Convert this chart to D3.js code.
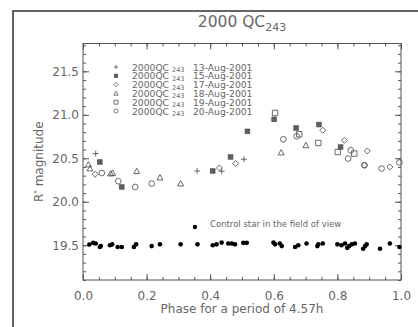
<!DOCTYPE html>
<html>
<head>
<meta charset="utf-8">
<script src="https://cdn.jsdelivr.net/npm/d3@7"></script>
<style>
body { margin: 0; background: #fff; }
text { font-family: "DejaVu Sans", sans-serif; fill: #666; }
</style>
</head>
<body>
<script>
// asteroid photometry, [phase, R magnitude] per night
var aug13 = [[0.040, 20.554], [0.359, 20.354], [0.436, 20.351], [0.506, 20.489]];
var aug15 = [[0.053, 20.457], [0.122, 20.170], [0.408, 20.354], [0.464, 20.515], [0.517, 20.810],
             [0.601, 20.948], [0.670, 20.848], [0.742, 20.887], [0.810, 20.630]];
var aug17 = [[0.038, 20.316], [0.429, 20.389], [0.480, 20.439], [0.754, 20.822], [0.822, 20.707],
             [0.894, 20.584], [0.885, 20.420], [0.965, 20.400]];
var aug18 = [[0.017, 20.428], [0.022, 20.382], [0.087, 20.324], [0.093, 20.331], [0.169, 20.351],
             [0.242, 20.278], [0.307, 20.209], [0.623, 20.566], [0.701, 20.649]];
var aug19 = [[0.604, 21.021], [0.680, 20.776], [0.740, 20.676], [0.801, 20.572], [0.853, 20.554]];
var aug20 = [[0.059, 20.331], [0.111, 20.236], [0.164, 20.170], [0.216, 20.209], [0.630, 20.718],
             [0.672, 20.753], [0.842, 20.592], [0.834, 20.497], [0.885, 20.420], [0.939, 20.382],
             [0.995, 20.451]];

// control star in the same frames
var control = [[0.020, 19.508], [0.032, 19.527], [0.040, 19.52], [0.053, 19.48], [0.056, 19.49],
               [0.085, 19.50], [0.092, 19.51], [0.109, 19.48], [0.122, 19.48], [0.160, 19.48],
               [0.167, 19.51], [0.216, 19.49], [0.242, 19.51], [0.307, 19.51], [0.360, 19.51],
               [0.408, 19.50], [0.420, 19.51], [0.436, 19.53], [0.457, 19.52], [0.468, 19.52],
               [0.478, 19.51], [0.504, 19.527], [0.515, 19.527], [0.599, 19.53], [0.604, 19.51],
               [0.619, 19.52], [0.625, 19.49], [0.667, 19.48], [0.677, 19.50], [0.703, 19.52],
               [0.737, 19.49], [0.740, 19.51], [0.754, 19.52], [0.800, 19.51], [0.813, 19.50],
               [0.824, 19.52], [0.831, 19.47], [0.837, 19.49], [0.845, 19.51], [0.855, 19.52],
               [0.881, 19.46], [0.887, 19.49], [0.892, 19.51], [0.934, 19.46], [0.965, 19.52],
               [0.995, 19.48]];
var controlNote = [0.352, 19.71];

var dates = ["13-Aug-2001", "15-Aug-2001", "17-Aug-2001", "18-Aug-2001", "19-Aug-2001", "20-Aug-2001"];
var glyphs = ["plus", "star", "diamond", "triangle", "square", "circle"];
var nights = [aug13, aug15, aug17, aug18, aug19, aug20];

var xTicks = [0, 0.2, 0.4, 0.6, 0.8, 1.0];
var yTicks = [19.5, 20.0, 20.5, 21.0, 21.5];

var width = 418, height = 327;
var plotL = 83, plotR = 401, plotT = 43.5, plotB = 280;

var x = d3.scaleLinear().domain([0, 1]).range([plotL, plotR]);
var y = d3.scaleLinear().domain([19.1, 21.82]).range([plotB, plotT]);

var svg = d3.select("body").append("svg")
    .attr("width", width)
    .attr("height", height);

// outer page border (runs off the right and bottom)
svg.append("rect")
    .attr("x", 13).attr("y", 11)
    .attr("width", 500).attr("height", 400)
    .attr("fill", "none")
    .attr("stroke", "#333")
    .attr("stroke-width", 1.5);

// title with subscript
var title = svg.append("text")
    .attr("x", 242).attr("y", 27)
    .attr("text-anchor", "middle")
    .style("font-size", "15.5px");
title.append("tspan").text("2000 QC");
title.append("tspan").attr("dy", 4).style("font-size", "11px").text("243");

// frame
svg.append("rect")
    .attr("x", plotL).attr("y", plotT)
    .attr("width", plotR - plotL).attr("height", plotB - plotT)
    .attr("fill", "none")
    .attr("stroke", "#555")
    .attr("stroke-width", 1);

function styleAxis(g) {
    g.select(".domain").remove();
    g.selectAll("line").attr("stroke", "#555");
    g.selectAll("text")
        .attr("fill", "#666")
        .style("font-family", "DejaVu Sans, sans-serif")
        .style("font-size", "12px");
}

var xMinor = d3.range(0, 1.0001, 0.05);
var yMinor = d3.range(19.1, 21.81, 0.1);

// bottom axis
svg.append("g").attr("transform", "translate(0," + plotB + ")")
    .call(d3.axisBottom(x).tickValues(xMinor).tickSize(-3).tickFormat(""))
    .call(styleAxis);
svg.append("g").attr("transform", "translate(0," + plotB + ")")
    .call(d3.axisBottom(x).tickValues(xTicks).tickSize(-6).tickPadding(11).tickFormat(d3.format(".1f")))
    .call(styleAxis);
// top axis
svg.append("g").attr("transform", "translate(0," + plotT + ")")
    .call(d3.axisTop(x).tickValues(xMinor).tickSize(-3).tickFormat(""))
    .call(styleAxis);
svg.append("g").attr("transform", "translate(0," + plotT + ")")
    .call(d3.axisTop(x).tickValues(xTicks).tickSize(-6).tickFormat(""))
    .call(styleAxis);
// left axis
svg.append("g").attr("transform", "translate(" + plotL + ",0)")
    .call(d3.axisLeft(y).tickValues(yMinor).tickSize(-3).tickFormat(""))
    .call(styleAxis);
svg.append("g").attr("transform", "translate(" + plotL + ",0)")
    .call(d3.axisLeft(y).tickValues(yTicks).tickSize(-6).tickPadding(4).tickFormat(d3.format(".1f")))
    .call(styleAxis);
// right axis
svg.append("g").attr("transform", "translate(" + plotR + ",0)")
    .call(d3.axisRight(y).tickValues(yMinor).tickSize(-3).tickFormat(""))
    .call(styleAxis);
svg.append("g").attr("transform", "translate(" + plotR + ",0)")
    .call(d3.axisRight(y).tickValues(yTicks).tickSize(-6).tickFormat(""))
    .call(styleAxis);

// axis titles
svg.append("text")
    .attr("x", 242).attr("y", 313)
    .attr("text-anchor", "middle")
    .style("font-size", "12px")
    .text("Phase for a period of 4.57h");

var ylab = svg.append("text")
    .attr("transform", "translate(43," + ((plotT + plotB) / 2) + ") rotate(-90)")
    .attr("text-anchor", "middle")
    .style("font-size", "12px");
ylab.append("tspan").text("R");
ylab.append("tspan").attr("dy", -4).style("font-size", "7px").text("*");
ylab.append("tspan").attr("dy", 4).text(" magnitude");

//symbol outlines, centred on 0,0
function glyphPath(type, s) {
    if (type === "plus") return "M" + -s + ",0H" + s + "M0," + -s + "V" + s;
    if (type === "star") return "M" + -s * 0.75 + "," + -s * 0.75 + "h" + s * 1.5 + "v" + s * 1.5 + "h" + -s * 1.5 + "Z" +
        "M" + -s * 0.75 + "," + -s * 0.75 + "L" + s * 0.75 + "," + s * 0.75 + "M" + -s * 0.75 + "," + s * 0.75 + "L" + s * 0.75 + "," + -s * 0.75;
    if (type === "diamond") return "M0," + -s + "L" + s + ",0L0," + s + "L" + -s + ",0Z";
    if (type === "triangle") return "M0," + -s + "L" + s + "," + s * 0.8 + "H" + -s + "Z";
    if (type === "square") return "M" + -s * 0.9 + "," + -s * 0.9 + "h" + s * 1.8 + "v" + s * 1.8 + "h" + -s * 1.8 + "Z";
    var r = s * 0.95;
    return "M" + -r + ",0A" + r + "," + r + " 0 1,0 " + r + ",0A" + r + "," + r + " 0 1,0 " + -r + ",0Z";
}

// asteroid points
nights.forEach(function (pts, i) {
    svg.append("g").selectAll("path")
        .data(pts)
        .enter().append("path")
        .attr("transform", function (d) { return "translate(" + x(d[0]) + "," + y(d[1]) + ")"; })
        .attr("d", glyphPath(glyphs[i], 3))
        .attr("fill", glyphs[i] === "star" ? "#777" : "none")
        .attr("stroke", "#444")
        .attr("stroke-width", 0.8);
});

// control star
svg.append("g").selectAll("circle")
    .data(control)
    .enter().append("circle")
    .attr("cx", function (d) { return x(d[0]); })
    .attr("cy", function (d) { return y(d[1]); })
    .attr("r", 2.3)
    .attr("fill", "#000");

svg.append("circle")
    .attr("cx", x(controlNote[0]))
    .attr("cy", y(controlNote[1]))
    .attr("r", 2.2)
    .attr("fill", "#000");
svg.append("text")
    .attr("x", 210).attr("y", 227)
    .style("font-size", "8.5px")
    .attr("fill", "#555")
    .text("Control star in the field of view");

// legend
var legend = svg.append("g");
dates.forEach(function (d, i) {
    var cy = 67 + i * 8.8;
    legend.append("path")
        .attr("transform", "translate(116," + cy + ")")
        .attr("d", glyphPath(glyphs[i], 2.2))
        .attr("fill", glyphs[i] === "star" ? "#777" : "none")
        .attr("stroke", "#444")
        .attr("stroke-width", 0.7);
    var t = legend.append("text")
        .attr("x", 132).attr("y", cy + 3.5)
        .style("font-size", "9.2px");
    t.append("tspan").text("2000QC");
    t.append("tspan").attr("x", 172).attr("dy", 1.5).style("font-size", "6.5px").text("243");
    t.append("tspan").attr("x", 193).attr("dy", -1.5).text(d);
});
</script>
</body>
</html>
